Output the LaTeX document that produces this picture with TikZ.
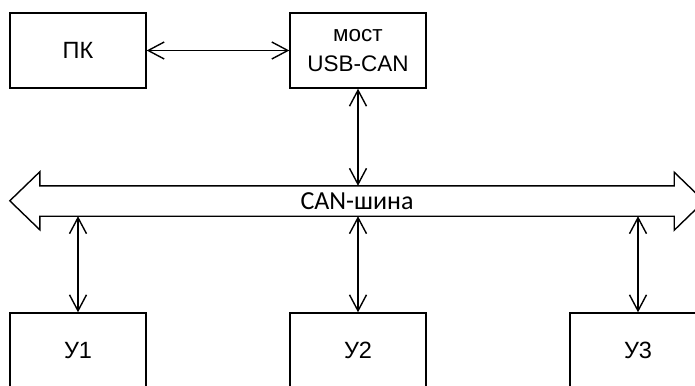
\documentclass[tikz,border=0pt]{standalone}
\usepackage{fontspec}
\setmainfont{Liberation Sans}
\newfontfamily\shinafont{Carlito}
\usetikzlibrary{arrows.meta}

\tikzset{
  blok/.style={draw, line width=1.4pt, minimum width=136pt, minimum height=75pt,
    inner sep=0pt, font=\fontsize{23.5}{28}\selectfont},
  svyaz/.style={line width=1.4pt,
    {Straight Barb[length=16pt,width=17pt]}-{Straight Barb[length=16pt,width=17pt]}},
}

\begin{document}
\begin{tikzpicture}[x=1pt, y=-1pt]
  \useasboundingbox (0,0) rectangle (695,385);
  \clip (0,0) rectangle (695,385);

  % Top blocks
  \node[blok] (pk) at (78,50.5) {ПК};
  \node[blok, align=center, font=\fontsize{22.5}{30}\selectfont] (most) at (358,50.5) {мост\\USB-CAN};

  % CAN bus
  \node[minimum width=634pt, minimum height=30pt, inner sep=0pt,
    font=\shinafont\fontsize{26}{30}\selectfont] (shina) at (357,201) {CAN-шина};
  \draw[line width=1.4pt, line join=miter] (shina.north west) -- ++(0,-14) -- ++(-30,29)
    -- ++(30,29) -- (shina.south west) -- (shina.south east) -- ++(0,14) -- ++(30,-29)
    -- ++(-30,-29) -- (shina.north east) -- cycle;

  \draw[svyaz] (pk) -- (most);
  \draw[svyaz] (most) -- (most |- shina.north);

  % Devices on the bus
  \foreach \x/\name in {78/1, 358/2, 638/3} {
    \node[blok] (u\name) at (\x,350.5) {У\name};
    \draw[svyaz] (u\name) -- (u\name |- shina.south);
  }
\end{tikzpicture}
\end{document}
